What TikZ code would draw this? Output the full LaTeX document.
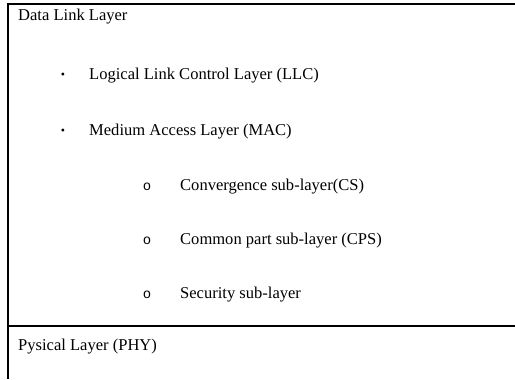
\documentclass[tikz,border=0pt]{standalone}
\usepackage{fontspec}
\setmainfont{Liberation Serif}
\newfontfamily\bulmono{Liberation Mono}
\begin{document}
\begin{tikzpicture}[x=1bp,y=-1bp,
  frameline/.style={line width=2bp,black},
  txt/.style={anchor=base west,inner sep=0pt,font=\fontsize{16.6}{19}\selectfont},
  bul/.style={anchor=base,inner sep=0pt,font=\fontsize{12}{14}\selectfont},
  cir/.style={anchor=base,inner sep=0pt,font=\bulmono\fontsize{14}{16}\selectfont}]
\useasboundingbox (0,0) rectangle (515,379);
\coordinate (tl) at (8,4);
\coordinate (tr) at (515,4);
\coordinate (bl) at (8,379);
\coordinate (dl) at (8,326);
\coordinate (dr) at (515,326);
\draw[frameline] (tr) -- (tl) -- (bl);
\draw[frameline] (dl) -- (dr);
\node[txt] (dll) at (18,20) {Data Link Layer};
\node[bul] (b1) at (63,78) {•};
\node[txt] (llc) at (89,79) {Logical Link Control Layer (LLC)};
\node[bul] (b2) at (63,134) {•};
\node[txt] (mac) at (89,135) {Medium Access Layer (MAC)};
\node[cir] (c1) at (147,190) {o};
\node[txt] (cs) at (180,190) {Convergence sub-layer(CS)};
\node[cir] (c2) at (147,244) {o};
\node[txt] (cps) at (180,244) {Common part sub-layer (CPS)};
\node[cir] (c3) at (147,298) {o};
\node[txt] (sec) at (180,298) {Security sub-layer};
\node[txt] (phy) at (18,350) {Pysical Layer (PHY)};
\end{tikzpicture}
\end{document}
